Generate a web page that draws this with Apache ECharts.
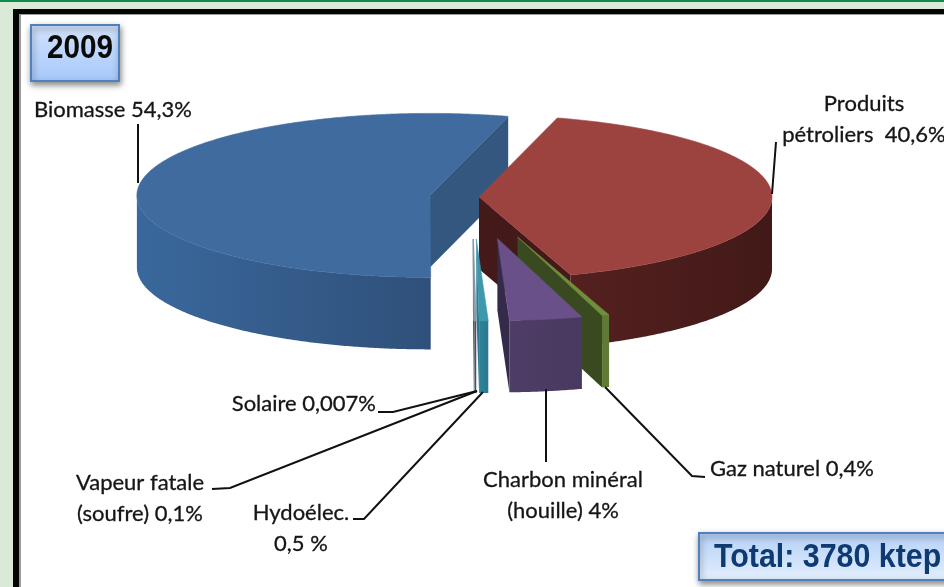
<!DOCTYPE html>
<html>
<head>
<meta charset="utf-8">
<title>2009</title>
<script src="https://cdn.jsdelivr.net/npm/echarts@6/dist/echarts.min.js"></script>
<style>
html,body{margin:0;padding:0;background:#fff;}
#main{width:944px;height:587px;}
</style>
</head>
<body>
<div id="main"></div>
<script>
(function () {
    // order = counter-clockwise around the pie, starting from startAngle
    var categories = ['Biomasse', 'Solaire', 'Vapeur fatale (soufre)', 'Hydoélec.', 'Charbon minéral (houille)', 'Gaz naturel', 'Produits pétroliers'];
    var values = [54.3, 0.007, 0.1, 0.5, 4, 0.4, 40.6];
    var labelTexts = ['Biomasse 54,3%', 'Solaire 0,007%', 'Vapeur fatale\n(soufre) 0,1%', 'Hydoélec.\n0,5 %', 'Charbon minéral\n(houille) 4%', 'Gaz naturel 0,4%', 'Produits\npétroliers  40,6%'];
    var yearText = '2009';
    var totalText = 'Total: 3780 ktep';

    // look of the pie
    var explode = [43, 150, 150, 150, 150, 150, 6.5];
    var drawOrder = [0, 6, 5, 4, 3, 2, 1]; // back to front
    var topColors = ['#3f6b9e', '#7f93a8', '#8a97a6', '#3d97ad', '#6a5088', '#6f8f3c', '#9c423f'];
    var cutColors = ['#33577f', '#333b45', '#4a5560', '#2c7a92', '#342a4a', '#3a4a20', '#43191a'];
    var wallLeft = ['#3a689c', '#333b45', '#4a5560', '#2f8299', '#4e3d66', '#5f7a34', '#54211f'];
    var wallRight = ['#2f507a', '#333b45', '#4a5560', '#2a7890', '#483960', '#5f7a34', '#421918'];

    var cx = 472.5, cy = 197, rx = 293, ry = 82, depth = 72;
    var startAngle = 74.5;

    var total = 0;
    for (var i in values) {
        total += values[i];
    }
    var starts = [];
    var acc = startAngle;
    for (var j in values) {
        starts.push(acc);
        acc += values[j] / total * 360;
    }

    function rad(a) {
        return a * Math.PI / 180;
    }

    function renderSlice(params, api) {
        var idx = api.value(0);
        var a0 = starts[idx];
        var a1 = a0 + values[idx] / total * 360;
        var mid = rad((a0 + a1) / 2);
        var ax = cx + explode[idx] * Math.cos(mid);
        var ay = cy - explode[idx] * ry / rx * Math.sin(mid);

        function rim(a, down) {
            return [ax + rx * Math.cos(rad(a)), ay - ry * Math.sin(rad(a)) + (down ? depth : 0)];
        }

        var children = [];
        // cut faces, only the one turned to the viewer
        var edge = Math.cos(rad(a0)) > 0 ? a0 : (Math.cos(rad(a1)) < 0 ? a1 : null);
        if (edge !== null) {
            children.push({
                type: 'polygon',
                shape: {points: [[ax, ay], rim(edge), rim(edge, true), [ax, ay + depth]]},
                style: {fill: cutColors[idx]}
            });
        }
        // outer wall, front half only
        var upper = [], lower = [];
        var n = Math.max(2, Math.ceil((a1 - a0) * 2));
        for (var k = 0; k <= n; k++) {
            var a = a0 + (a1 - a0) * k / n;
            if (Math.sin(rad(a)) <= 0.0001) {
                upper.push(rim(a));
                lower.unshift(rim(a, true));
            }
        }
        if (upper.length > 1) {
            var xs = upper.map(function (p) { return p[0]; });
            children.push({
                type: 'polygon',
                shape: {points: upper.concat(lower)},
                style: {
                    fill: new echarts.graphic.LinearGradient(Math.min.apply(null, xs), 0, Math.max.apply(null, xs), 0, [
                        {offset: 0, color: wallLeft[idx]},
                        {offset: 1, color: wallRight[idx]}
                    ], true)
                }
            });
        }
        // top face
        var top = [[ax, ay]];
        for (var m = 0; m <= n; m++) {
            top.push(rim(a0 + (a1 - a0) * m / n));
        }
        children.push({
            type: 'polygon',
            shape: {points: top},
            style: {fill: topColors[idx], stroke: topColors[idx], lineWidth: 0.6}
        });
        return {type: 'group', children: children};
    }

    var labelFont = '"Lato", "Open Sans", sans-serif';

    function label(text, x, y, align) {
        return {
            type: 'text', z: 10, x: x, y: y,
            style: {
                text: text, fill: '#151515', font: '22px ' + labelFont,
                stroke: '#151515', lineWidth: 0.3,
                align: align || 'center', verticalAlign: 'middle', lineHeight: 31
            }
        };
    }

    function leader(points) {
        return {
            type: 'polyline', z: 10,
            shape: {points: points},
            style: {stroke: '#111', lineWidth: 2, fill: null}
        };
    }

    function box(x, y, w, h, c0, c1) {
        return {
            type: 'rect', z: 1,
            shape: {x: x, y: y, width: w, height: h},
            style: {
                fill: new echarts.graphic.LinearGradient(0, 0, 0, 1, [
                    {offset: 0, color: c0},
                    {offset: 1, color: c1}
                ]),
                stroke: '#4f81bd', lineWidth: 2,
                shadowBlur: 6, shadowOffsetX: 1, shadowOffsetY: 3, shadowColor: 'rgba(0,0,0,0.45)'
            }
        };
    }

    function plain(x, y, w, h, color) {
        return {type: 'rect', z: 0, shape: {x: x, y: y, width: w, height: h}, style: {fill: color}};
    }

    var seriesData = drawOrder.map(function (idx) {
        return {name: categories[idx], value: [idx, values[idx]]};
    });

    var myEchart = echarts.init(document.getElementById('main'), null, {renderer: 'canvas'});
    myEchart.setOption({
        animation: false,
        backgroundColor: '#dbe9d7',
        tooltip: {show: false},
        graphic: [
            // page frame
            plain(0, 0, 944, 2, '#0b8a48'),
            plain(13, 9, 931, 578, '#050505'),
            plain(19, 14, 925, 573, '#9a9a9a'),
            plain(21, 15, 923, 572, '#ffffff'),
            plain(23, 16, 921, 571, '#ffffff'),
            // boxes
            box(31, 25, 88, 56, '#d3e3fc', '#a6c8fb'),
            {
                type: 'text', z: 10, x: 80, y: 49, scaleX: 0.9,
                style: {text: yearText, fill: '#0a0a0a', font: 'bold 33px "Liberation Sans"', align: 'center', verticalAlign: 'middle'}
            },
            box(699, 533, 260, 47, '#b3cff6', '#e4effd'),
            {
                type: 'text', z: 10, x: 714, y: 558, scaleX: 0.92,
                style: {text: totalText, fill: '#0e3a72', font: 'bold 33px "Liberation Sans"', align: 'left', verticalAlign: 'middle'}
            },
            // labels
            label(labelTexts[0], 34, 110, 'left'),
            label(labelTexts[6], 864, 119),
            label(labelTexts[1], 376, 404, 'right'),
            label(labelTexts[2], 140, 498),
            label(labelTexts[3], 301, 528),
            label(labelTexts[4], 563, 495),
            label(labelTexts[5], 710, 469, 'left'),
            // leader lines
            leader([[138, 124], [138, 183]]),
            leader([[776, 142], [772, 194]]),
            leader([[378, 412], [393, 412], [477, 391]]),
            leader([[212, 489], [230, 488], [477, 391]]),
            leader([[353, 519], [364, 519], [483, 392]]),
            leader([[546, 389], [546, 462]]),
            leader([[605, 387], [692, 476], [705, 477]])
        ],
        series: [{
            type: 'custom',
            coordinateSystem: 'none',
            silent: true,
            z: 5,
            renderItem: renderSlice,
            data: seriesData
        }]
    });
})();
</script>
</body>
</html>
